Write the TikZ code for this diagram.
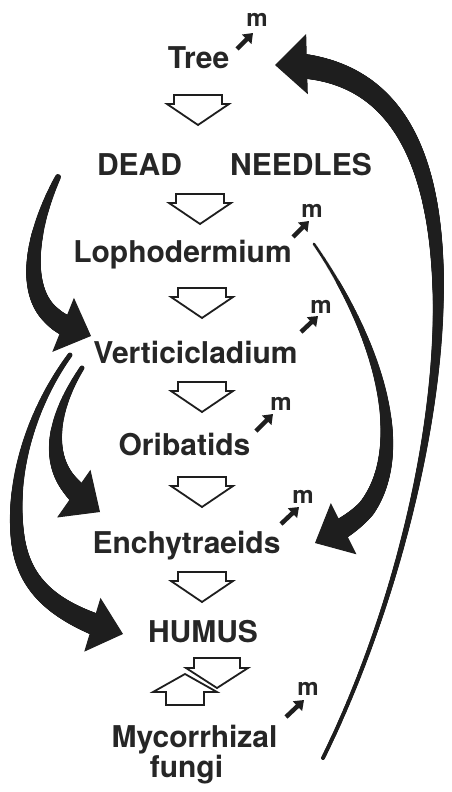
\documentclass[tikz,border=0pt]{standalone}
\usepackage{fontspec}
\setmainfont{TeX Gyre Heros}
\usetikzlibrary{arrows.meta,decorations.markings}
\definecolor{ink}{HTML}{1E1E1E}
\definecolor{txt}{HTML}{262626}
\tikzset{
  lbl/.style={anchor=base, inner sep=0pt, text=txt, font=\fontsize{30}{36}\selectfont\bfseries},
  mlbl/.style={anchor=base, inner sep=0pt, text=txt, font=\fontsize{24}{28}\selectfont\bfseries},
  mini/.style={draw=ink, line width=4.5pt, -{Triangle[length=9pt,width=13pt]}},
  hollow/.style={draw=ink, line width=1.8pt, fill=white, line join=miter},
  pics/hdown/.style={code={\draw[hollow] (-24,0) -- (24,0) -- (24,9) -- (31,9) -- (0,30) -- (-31,9) -- (-24,9) -- cycle;}},
  taper/.style args={#1/#2/#3/#4}{
    postaction={decorate, decoration={markings,
      mark=between positions 0 and -#4pt step 1pt with {
        \pgfmathsetmacro\tr{#1+(#2-#1)*((\pgfkeysvalueof{/pgf/decoration/mark info/distance from start})/(\pgfdecoratedpathlength-#4))^#3}
        \fill[ink] (0,0) circle[radius=\tr pt];
      }}}},
  big/.style args={#1/#2}{draw=ink, line width=1pt, -{Triangle[length=#1pt,width=#2pt]}}
}
\begin{document}
\begin{tikzpicture}[x=1pt,y=-1pt]
\useasboundingbox (0,0) rectangle (451,792);
\fill[white] (0,0) rectangle (451,792);
% labels
\node[lbl] (tree) at (198.5,68) {Tree};
\node[lbl] (dead) at (139.5,175) {DEAD};
\node[lbl] (needles) at (301,175) {NEEDLES};
\node[lbl] (loph) at (182.5,262) {Lophodermium};
\node[lbl] (vert) at (195.5,363) {Verticicladium};
\node[lbl] (orib) at (184.5,455) {Oribatids};
\node[lbl] (ench) at (186.5,553) {Enchytraeids};
\node[lbl] (humus) at (203,642) {HUMUS};
\node[lbl] (myco) at (194.5,747) {Mycorrhizal};
\node[lbl] (fungi) at (186.5,777) {fungi};
% m labels
\node[mlbl] (mtree) at (257,27) {m};
\node[mlbl] (mloph) at (312,217) {m};
\node[mlbl] (mvert) at (321,313) {m};
\node[mlbl] (morib) at (281,410) {m};
\node[mlbl] (mench) at (303,503) {m};
\node[mlbl] (mmyco) at (308,695) {m};
% small m arrows
\coordinate (t1) at (237,49); \coordinate (h1) at (253,33);
\coordinate (t2) at (293,237); \coordinate (h2) at (309,221);
\coordinate (t3) at (301,332); \coordinate (h3) at (318,316);
\coordinate (t4) at (256,431); \coordinate (h4) at (273,414);
\coordinate (t5) at (281,524); \coordinate (h5) at (299,507);
\coordinate (t6) at (286,717); \coordinate (h6) at (304,700);
\foreach \i in {1,...,6} {\draw[mini] (t\i) -- (h\i);}
% hollow flow arrows
\coordinate (f1) at (198,95);
\coordinate (f2) at (200,194);
\coordinate (f3) at (202,288);
\coordinate (f4) at (202,382);
\coordinate (f5) at (202,477);
\coordinate (f6) at (202,572);
\foreach \i in {1,...,6} {\pic at (f\i) {hdown};}
% humus <-> mycorrhizal
\draw[hollow] (194,658) -- (240,658) -- (240,668) -- (248,668) -- (217,688) -- (186,668) -- (194,668) -- cycle;
\draw[hollow] (166,705) -- (204,705) -- (204,692) -- (217,692) -- (185,674) -- (153,692) -- (166,692) -- cycle;
% big black arrows
\coordinate (As) at (323,758); \coordinate (Am) at (438,280); \coordinate (Ae) at (275,65);
\draw[big=32/60, taper=2/12.5/2.2/30] (As) .. controls (396,610) and (442,420) .. (Am) .. controls (434,140) and (385,62) .. (Ae);
\coordinate (Bs) at (314,244); \coordinate (Bm) at (366,509); \coordinate (Be) at (315,543);
\draw[big=32/57, taper=1.5/10.5/1.5/30] (Bs) .. controls (380,340) and (410,450) .. (Bm) .. controls (351,525) and (335,533) .. (Be);
\coordinate (Cs) at (58,177); \coordinate (Cm) at (52,316); \coordinate (Ce) at (91,336);
\draw[big=30/58, taper=3/10.5/1/28] (Cs) .. controls (32,230) and (22,290) .. (Cm) .. controls (62,326) and (76,330) .. (Ce);
\coordinate (Ds) at (82,368); \coordinate (Dm) at (70,485); \coordinate (De) at (100,512);
\draw[big=32/58, taper=2.5/10.5/1.3/30] (Ds) .. controls (55,410) and (45,455) .. (Dm) .. controls (80,497) and (90,505) .. (De);
\coordinate (Es) at (70,355); \coordinate (Em) at (18,540); \coordinate (Ee) at (123,634);
\draw[big=32/56, taper=2.5/11/1.3/30] (Es) .. controls (30,410) and (10,480) .. (Em) .. controls (25,590) and (60,615) .. (Ee);
\end{tikzpicture}
\end{document}
